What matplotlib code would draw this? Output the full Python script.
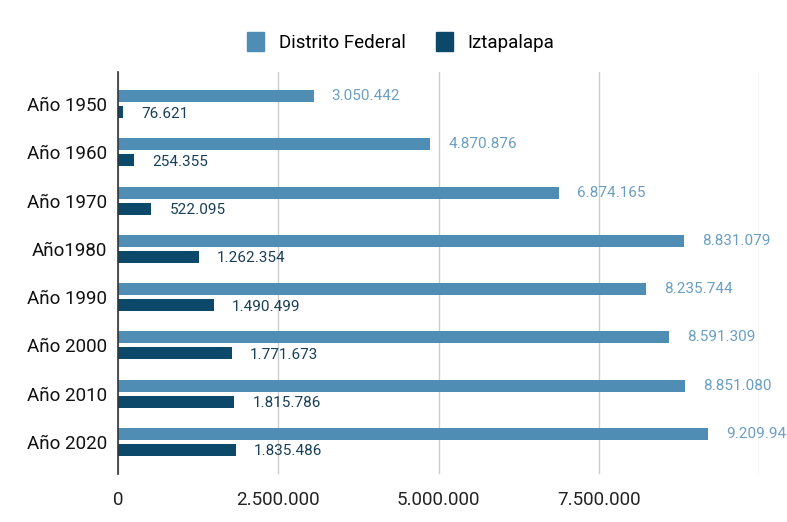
import matplotlib
matplotlib.use("Agg")
import matplotlib.pyplot as plt
from matplotlib.patches import Patch
import numpy as np

categories = ["Año 1950", "Año 1960", "Año 1970", "Año1980", "Año 1990", "Año 2000", "Año 2010", "Año 2020"]
distrito_federal = [3050442, 4870876, 6874165, 8831079, 8235744, 8591309, 8851080, 9209944]
iztapalapa = [76621, 254355, 522095, 1262354, 1490499, 1771673, 1815786, 1835486]
x_ticks = [0, 2500000, 5000000, 7500000]
x_tick_labels = ["0", "2.500.000", "5.000.000", "7.500.000"]
series_names = ["Distrito Federal", "Iztapalapa"]

c_df = "#4f8db4"
c_iz = "#0c4869"
c_df_lab = "#6a9fc2"
c_iz_lab = "#173f57"

plt.rcParams['font.family'] = ['Roboto', 'DejaVu Sans']

fig = plt.figure(figsize=(7.87, 5.22), dpi=100)
W, H = 787, 522
left_px, right_px, top_px, bot_px = 118, 759, 72, 474
ax = fig.add_axes([left_px / W, 1 - bot_px / H, (right_px - left_px) / W, (bot_px - top_px) / H])

y = np.arange(len(categories))
bh = 0.25
off = 0.165
ax.barh(y - off, distrito_federal, height=bh, color=c_df, zorder=3)
ax.barh(y + off, iztapalapa, height=bh, color=c_iz, zorder=3)

for yi, v in zip(y, distrito_federal):
    ax.annotate(f"{v:,}".replace(",", "."), (v, yi - off), xytext=(13, 0), textcoords="offset points",
                va="center", ha="left", fontsize=11, color=c_df_lab, annotation_clip=False)
for yi, v in zip(y, iztapalapa):
    ax.annotate(f"{v:,}".replace(",", "."), (v, yi + off + 0.03), xytext=(13, 0), textcoords="offset points",
                va="center", ha="left", fontsize=11, color=c_iz_lab, annotation_clip=False)

ax.set_xlim(0, 10000000)
ax.set_ylim(len(categories) - 1 + 0.665, -0.665)
ax.set_yticks(y)
ax.set_yticklabels(categories, fontsize=13.5, color="#111111")
ax.set_xticks(x_ticks)
ax.set_xticklabels(x_tick_labels, fontsize=13.5, color="#222222")
ax.tick_params(axis="both", length=0)
ax.tick_params(axis="y", pad=8)
ax.tick_params(axis="x", pad=12)
ax.grid(axis="x", color="#cccccc", linewidth=1, zorder=0)
ax.axvline(10000000, color="#cccccc", linewidth=1, zorder=0)
for s in ["top", "right", "bottom"]:
    ax.spines[s].set_visible(False)
ax.spines["left"].set_color("#333333")
ax.spines["left"].set_linewidth(1.2)
ax.spines["left"].set_zorder(4)

handles = [Patch(color=c_df, label=series_names[0]), Patch(color=c_iz, label=series_names[1])]
fig.legend(handles=handles, loc="center", bbox_to_anchor=(401 / W, 1 - 42 / H), ncol=2, frameon=False,
           fontsize=13.5, handlelength=0.9, handleheight=1.2, handletextpad=0.8, columnspacing=1.6)

fig.savefig("out.png", dpi=100)
